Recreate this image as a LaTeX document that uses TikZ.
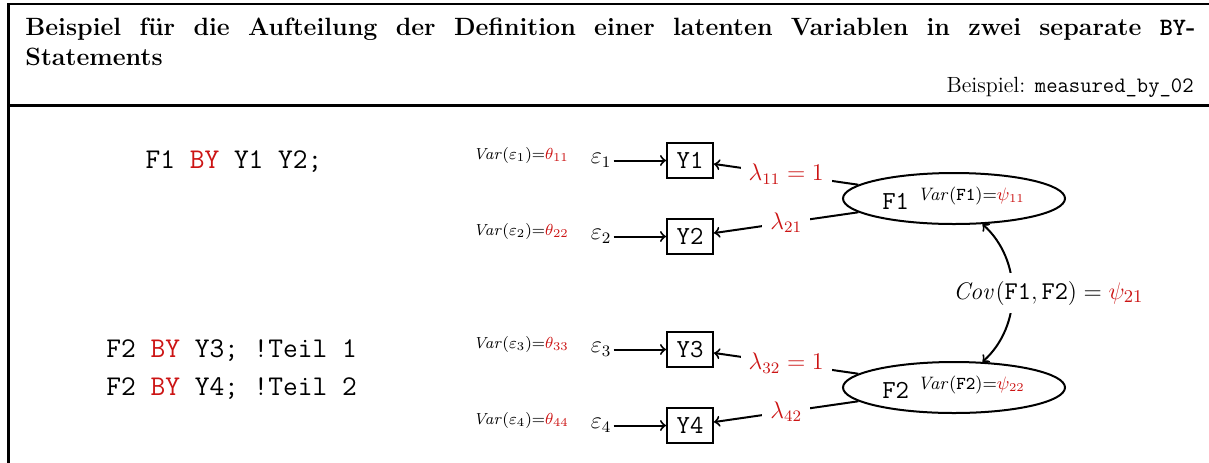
\documentclass[tikz,border=0pt]{standalone}
\usepackage{amsmath,amssymb}
\usepackage{tikz}
\usetikzlibrary{shapes.geometric}
\definecolor{byred}{RGB}{204,20,20}

\begin{document}
\begin{tikzpicture}[x=0.5pt,y=0.5pt,
    obs/.style={draw, line width=1pt, font=\fontsize{13}{15}\selectfont\ttfamily,
      minimum width=23pt, minimum height=17.5pt, inner sep=1pt},
    lat/.style={draw, line width=1pt, ellipse, minimum width=111pt, minimum height=25.5pt,
      inner sep=0pt, font=\fontsize{13}{15}\selectfont},
    err/.style={inner sep=1pt, font=\fontsize{12}{14}\selectfont},
    varlab/.style={inner sep=0pt, font=\fontsize{8}{10}\selectfont},
    load/.style={fill=white, text=byred, inner sep=4pt, font=\fontsize{12}{14}\selectfont},
    code/.style={inner sep=0pt, font=\fontsize{14.3}{19}\selectfont\ttfamily}]
    \useasboundingbox (0,0) rectangle (1209,-462);
    \clip (0,0) rectangle (1209,-462);
    % frame of the example box
    \draw[line width=1.25pt] (1220,-4) -- (8.3,-4) -- (8.3,-470);
    \draw[line width=1.25pt] (8.3,-105.5) -- (1220,-105.5);
    \node[anchor=north west, inner sep=0pt, text width=585pt, align=justify,
      font=\fontsize{12.5}{15}\selectfont\bfseries] (ttl) at (25,-18)
      {Beispiel für die Aufteilung der Definition einer latenten Variablen in zwei separate \texttt{BY}-\linebreak Statements};
    \node[anchor=base east, inner sep=0pt, font=\fontsize{11}{13}\selectfont] (src) at (1194,-92)
      {Beispiel: \texttt{measured\_by\_02}};
    % syntax
    \node[code, anchor=base] (c1) at (234,-168) {F1 \textcolor{byred}{BY} Y1 Y2;};
    \node[code, anchor=base west] (c2) at (106,-357) {F2 \textcolor{byred}{BY} Y3; !Teil 1};
    \node[code, anchor=base west] (c3) at (106,-395) {F2 \textcolor{byred}{BY} Y4; !Teil 2};
    % path diagram
    \node[lat] (F1) at (954,-198.5) {\texttt{F1} $^{\mathit{Var}(\texttt{F1})=\color{byred}\psi_{11}}$};
    \node[lat] (F2) at (954,-387.5) {\texttt{F2} $^{\mathit{Var}(\texttt{F2})=\color{byred}\psi_{22}}$};
    \foreach \i/\y in {1/160.5,2/236.5,3/349.5,4/425.5} {
        \node[obs] (Y\i) at (690,-\y) {Y\i};
        \node[err] (e\i) at (601,-\y) {$\varepsilon_{\i}$};
        \node[varlab] (v\i) at (521,-\y+5.5)
          {$\mathit{Var}(\varepsilon_{\i}){=}{\color{byred}\theta_{\i\i}}$};
        \draw[line width=1pt, ->] (e\i) -- (Y\i);
      }
    \draw[line width=1pt, <-] (Y1) -- node[load] {$\lambda_{11} = 1$} (F1);
    \draw[line width=1pt, <-] (Y2) -- node[load] {$\lambda_{21}$} (F1);
    \draw[line width=1pt, <-] (Y3) -- node[load] {$\lambda_{32} = 1$} (F2);
    \draw[line width=1pt, <-] (Y4) -- node[load] {$\lambda_{42}$} (F2);
    \draw[line width=1pt, <->] (F1) to[bend left=48]
      node[load, text=black, xshift=18pt, font=\fontsize{12.8}{15}\selectfont] (cov)
      {$\mathit{Cov}(\texttt{F1},\texttt{F2}) = {\color{byred}\psi_{21}}$} (F2);
  \end{tikzpicture}
\end{document}
